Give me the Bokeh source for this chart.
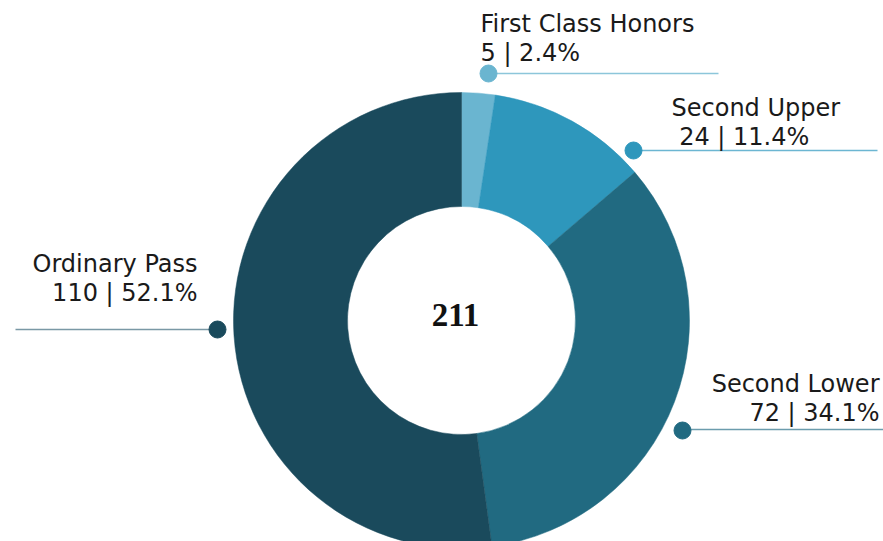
import math
from bokeh.plotting import figure
from bokeh.models import Range1d, ColumnDataSource
from bokeh.core.properties import value
from bokeh.embed import file_html
from bokeh.resources import INLINE

# ---- data ----
categories = ["First Class Honors", "Second Upper", "Second Lower", "Ordinary Pass"]
counts = [5, 24, 72, 110]
colors = ["#6ab5d0", "#2e97bc", "#216a81", "#1a4a5c"]
line_colors = ["#8cc6da", "#6cb6d2", "#6b9cad", "#7a98a5"]

total = sum(counts)
pcts = [c / total * 100 for c in counts]

# ---- layout (page pixel coords) ----
W, H = 883, 541
def X(px): return px
def Y(py): return H - py

cx, cy = 461, 320
r_out, r_in = 228, 114

# label layout: dot position, line extent, text anchor, alignment, line-2 prefix
dots = [(488, 73), (633, 150), (682, 430), (217, 329)]
line_ends = [(488, 718, 73), (633, 877, 150), (682, 883, 429), (15, 217, 329)]
text_x = [480, 671, 879, 197]
text_base = [23, 107, 383, 263]
text_align = ["left", "left", "right", "right"]
prefix = ["", "\u00a0", "", ""]

p = figure(width=W, height=H, output_backend="svg", toolbar_location=None,
           x_range=Range1d(0, W), y_range=Range1d(0, H), min_border=0)
p.axis.visible = False
p.grid.visible = False
p.outline_line_color = None
p.background_fill_color = "white"

# wedges: start at top, clockwise
starts, ends = [], []
cum = 0.0
for c in counts:
    a0 = math.pi / 2 - 2 * math.pi * cum / total
    cum += c
    a1 = math.pi / 2 - 2 * math.pi * cum / total
    starts.append(a0)
    ends.append(a1)

src = ColumnDataSource(dict(cat=categories, count=counts, start=starts, end=ends, color=colors))
p.annular_wedge(x=X(cx), y=Y(cy), inner_radius=r_in, outer_radius=r_out,
                start_angle="start", end_angle="end", direction="clock",
                fill_color="color", line_color="color", line_width=0.5, source=src)

# leader lines and dots
for i in range(len(categories)):
    x0, x1, ly = line_ends[i]
    p.line([X(x0), X(x1)], [Y(ly), Y(ly)], line_color=line_colors[i], line_width=1.5)
    dx, dy = dots[i]
    p.scatter([X(dx)], [Y(dy)], size=17, fill_color=colors[i], line_color=colors[i])

# labels
for i, cat in enumerate(categories):
    l2 = f"{prefix[i]}{counts[i]} | {pcts[i]:.1f}%"
    p.text([X(text_x[i])], [Y(text_base[i])], text=[cat], text_font=value("DejaVu Sans"),
           text_font_size="24px", text_color="#1a1a1a", text_align=text_align[i],
           text_baseline="alphabetic")
    p.text([X(text_x[i])], [Y(text_base[i] + 29)], text=[l2], text_font=value("DejaVu Sans"),
           text_font_size="24px", text_color="#1a1a1a", text_align=text_align[i],
           text_baseline="alphabetic")

# center total
p.text([X(455)], [Y(314)], text=[str(total)], text_font=value("Liberation Serif"),
       text_font_size="33px", text_font_style="bold", text_color="#111111",
       text_align="center", text_baseline="alphabetic")

open("out.html", "w").write(file_html(p, INLINE))
